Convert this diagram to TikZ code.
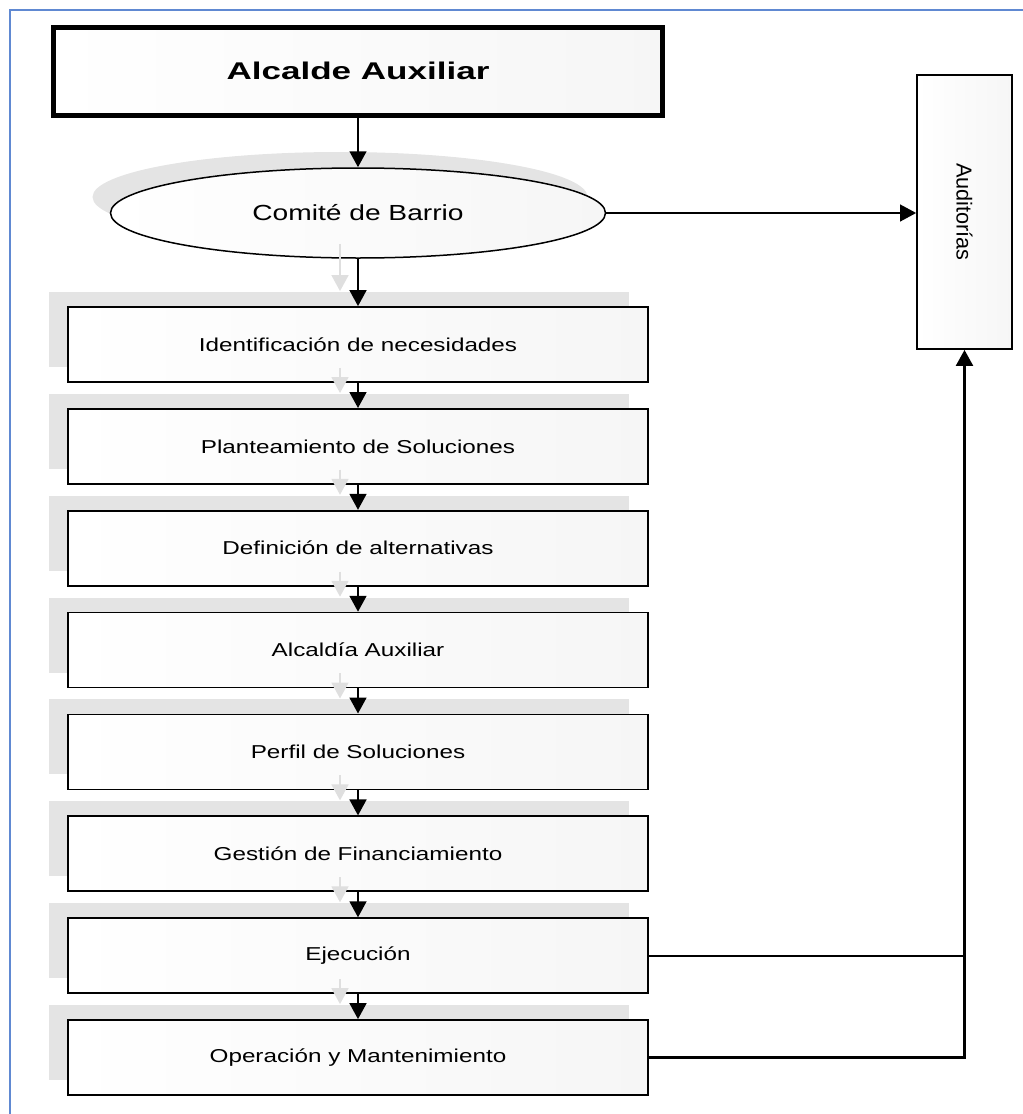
\documentclass[tikz,border=0pt]{standalone}
\usepackage{graphicx}
\usepackage{fontspec}
\setmainfont{Liberation Sans}
\usetikzlibrary{arrows.meta,shapes.geometric,shadows}
\definecolor{framecol}{RGB}{96,137,210}
\newcommand{\ancho}[2]{\scalebox{#1}[1]{#2}}
\tikzset{
  caja/.style={draw, inner sep=0pt, left color=white, right color=gray!7},
  paso/.style={caja, line width=1pt, minimum width=348pt, minimum height=45pt,
    general shadow={fill=gray!21, shadow xshift=-11.4pt, shadow yshift=9pt},
    font=\fontsize{11.2}{13}\selectfont},
  flecha/.style={line width=1.6pt, -{Triangle[length=9.6pt,width=10pt]}},
  sombra/.style={flecha, gray!25, transform canvas={xshift=-10.8pt,yshift=9pt}},
}
\begin{document}
\begin{tikzpicture}[x=0.6pt,y=-0.6pt]
\useasboundingbox (0,0) rectangle (1023,1114);
\draw[framecol, line width=1pt] (10,1114) -- (10,10) -- (1023,10);
% cabecera
\node[caja, line width=3pt, minimum width=365.4pt, minimum height=52.8pt,
  font=\bfseries\fontsize{14.5}{17}\selectfont] (titulo) at (358,71) {\ancho{1.45}{Alcalde Auxiliar}};
\node[caja, ellipse, line width=0.9pt, minimum width=297pt, minimum height=54pt,
  general shadow={fill=gray!21, shadow xshift=-10.8pt, shadow yshift=9.6pt},
  font=\fontsize{13.1}{15}\selectfont] (comite) at (358,213) {\ancho{1.29}{Comité de Barrio}};
\node[caja, line width=1pt, minimum width=57pt, minimum height=164.4pt,
  font=\fontsize{13}{15}\selectfont] (aud) at (964.5,212) {\rotatebox{-90}{Auditorías}};
% pasos
\node[paso] (p1) at (358,344.5) {\ancho{1.3}{Identificación de necesidades}};
\node[paso] (p2) at (358,446.4) {\ancho{1.3}{Planteamiento de Soluciones}};
\node[paso] (p3) at (358,548.2) {\ancho{1.3}{Definición de alternativas}};
\node[paso] (p4) at (358,650.1) {\ancho{1.3}{Alcaldía Auxiliar}};
\node[paso] (p5) at (358,751.9) {\ancho{1.3}{Perfil de Soluciones}};
\node[paso] (p6) at (358,853.8) {\ancho{1.3}{Gestión de Financiamiento}};
\node[paso] (p7) at (358,955.7) {\ancho{1.3}{Ejecución}};
\node[paso] (p8) at (358,1057.5) {\ancho{1.3}{Operación y Mantenimiento}};
% sombras de flechas
\draw[sombra] (comite.south) -- (p1.north);
\draw[sombra] (p1.south) -- (p2.north);
\draw[sombra] (p2.south) -- (p3.north);
\draw[sombra] (p3.south) -- (p4.north);
\draw[sombra] (p4.south) -- (p5.north);
\draw[sombra] (p5.south) -- (p6.north);
\draw[sombra] (p6.south) -- (p7.north);
\draw[sombra] (p7.south) -- (p8.north);
% flechas
\draw[flecha] (titulo.south) -- (comite.north);
\draw[flecha] (comite.south) -- (p1.north);
\draw[flecha] (p1.south) -- (p2.north);
\draw[flecha] (p2.south) -- (p3.north);
\draw[flecha] (p3.south) -- (p4.north);
\draw[flecha] (p4.south) -- (p5.north);
\draw[flecha] (p5.south) -- (p6.north);
\draw[flecha] (p6.south) -- (p7.north);
\draw[flecha] (p7.south) -- (p8.north);
\draw[flecha, line width=1.2pt] (comite.east) -- (comite.east -| aud.west);
\draw[line width=1.2pt] (p7.east) -- (p7.east -| aud.south);
\draw[flecha, line width=1.8pt] (p8.east) -| (aud.south);
\end{tikzpicture}
\end{document}
